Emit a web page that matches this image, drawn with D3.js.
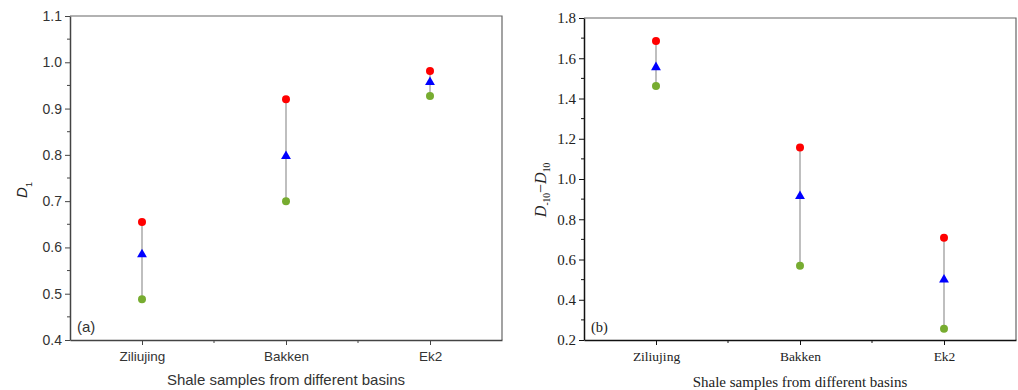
<!DOCTYPE html>
<html>
<head>
<meta charset="utf-8">
<script src="https://cdn.jsdelivr.net/npm/d3@7"></script>
<style>
  body { margin: 0; background: #fff; }
  svg { display: block; }
</style>
</head>
<body>
<div id="chart"></div>
<script>
const width = 1018;
const height = 390;

// shared categories
const basins = ["Ziliujing", "Bakken", "Ek2"];

// panel (a): D1
const d1Max = [0.655, 0.920, 0.981];
const d1Mean = [0.585, 0.797, 0.957];
const d1Min = [0.488, 0.700, 0.927];
const d1Ticks = ["0.4", "0.5", "0.6", "0.7", "0.8", "0.9", "1.0", "1.1"];

// panel (b): D-10 - D10
const dwMax = [1.686, 1.156, 0.708];
const dwMean = [1.555, 0.915, 0.500];
const dwMin = [1.462, 0.569, 0.256];
const dwTicks = ["0.2", "0.4", "0.6", "0.8", "1.0", "1.2", "1.4", "1.6", "1.8"];

const svg = d3.select("#chart")
    .append("svg")
    .attr("width", width)
    .attr("height", height);

function drawPanel(opt) {
    const g = svg.append("g");
    const x = d3.scaleLinear().domain([0, 3]).range([opt.left, opt.right]);
    const y = d3.scaleLinear().domain(opt.yDomain).range([opt.bottom, opt.top]);
    const font = opt.font;

    // frame: top and right
    g.append("path")
        .attr("d", `M${opt.left},${opt.top}H${opt.right}V${opt.bottom}`)
        .attr("fill", "none")
        .attr("stroke", "#666")
        .attr("stroke-width", 1.2);

    // y axis
    const yTickVals = opt.yTicks.map(Number);
    const step = yTickVals[1] - yTickVals[0];
    const yMinor = yTickVals.slice(0, -1).map((v) => v + step / 2);
    const yAxis = g.append("g")
        .attr("transform", `translate(${opt.left},0)`)
        .call(d3.axisLeft(y).tickValues(yTickVals).tickFormat((d, i) => opt.yTicks[i]).tickSize(5).tickPadding(3).tickSizeOuter(0));
    yAxis.append("g").selectAll("line")
        .data(yMinor)
        .join("line")
        .attr("x1", -3).attr("x2", 0)
        .attr("y1", (d) => y(d)).attr("y2", (d) => y(d))
        .attr("stroke", opt.axisColor);

    // x axis
    const xAxis = g.append("g")
        .attr("transform", `translate(0,${opt.bottom})`)
        .call(d3.axisBottom(x).tickValues([0.5, 1.5, 2.5]).tickFormat((d, i) => basins[i]).tickSize(5).tickPadding(6).tickSizeOuter(0));
    xAxis.append("g").selectAll("line")
        .data([1, 2])
        .join("line")
        .attr("x1", (d) => x(d)).attr("x2", (d) => x(d))
        .attr("y1", 0).attr("y2", 3)
        .attr("stroke", opt.axisColor);

    [yAxis, xAxis].forEach((a) => {
        a.attr("font-family", font);
        a.select(".domain").attr("stroke", opt.axisColor).attr("stroke-width", 1.5);
        a.selectAll(".tick line").attr("stroke", opt.axisColor);
        a.selectAll("text")
            .attr("font-family", font)
            .attr("fill", opt.textColor);
    });
    yAxis.selectAll("text").attr("font-size", opt.yTickSize);
    xAxis.selectAll("text").attr("font-size", opt.xTickSize);

    // range lines
    g.append("g").selectAll("line")
        .data(basins)
        .join("line")
        .attr("x1", (d, i) => x(i + 0.5)).attr("x2", (d, i) => x(i + 0.5))
        .attr("y1", (d, i) => y(opt.max[i])).attr("y2", (d, i) => y(opt.min[i]))
        .attr("stroke", "#aaa")
        .attr("stroke-width", 1.5);

    // min points (green)
    g.append("g").selectAll("circle")
        .data(opt.min)
        .join("circle")
        .attr("cx", (d, i) => x(i + 0.5))
        .attr("cy", (d) => y(d))
        .attr("r", 4)
        .attr("fill", "#77ac30");

    // max points (red)
    g.append("g").selectAll("circle")
        .data(opt.max)
        .join("circle")
        .attr("cx", (d, i) => x(i + 0.5))
        .attr("cy", (d) => y(d))
        .attr("r", 4)
        .attr("fill", "#ff0000");

    // mean points (blue triangles)
    const tri = d3.symbol().type(d3.symbolTriangle).size(42);
    g.append("g").selectAll("path")
        .data(opt.mean)
        .join("path")
        .attr("d", tri)
        .attr("transform", (d, i) => `translate(${x(i + 0.5)},${y(d)})`)
        .attr("fill", "#0000ff");

    // panel label
    g.append("text")
        .attr("x", opt.left + 7)
        .attr("y", opt.bottom - 8)
        .attr("font-family", font)
        .attr("font-size", opt.tagSize)
        .attr("fill", opt.textColor)
        .text(opt.tag);

    // x title
    g.append("text")
        .attr("x", (opt.left + opt.right) / 2)
        .attr("y", opt.xTitleY)
        .attr("text-anchor", "middle")
        .attr("font-family", font)
        .attr("font-size", opt.titleSize)
        .attr("fill", opt.textColor)
        .text("Shale samples from different basins");

    return { g, x, y };
}

const a = drawPanel({
    left: 70, right: 502, top: 16, bottom: 340,
    yDomain: [0.4, 1.1], yTicks: d1Ticks,
    max: d1Max, mean: d1Mean, min: d1Min,
    font: "'Liberation Sans', Arial, sans-serif",
    yTickSize: 14, xTickSize: 13.5, tagSize: 15, titleSize: 15,
    axisColor: "#444", textColor: "#333",
    tag: "(a)", xTitleY: 385
});

const b = drawPanel({
    left: 584, right: 1016, top: 18, bottom: 340,
    yDomain: [0.2, 1.8], yTicks: dwTicks,
    max: dwMax, mean: dwMean, min: dwMin,
    font: "'Liberation Serif', 'Times New Roman', serif",
    yTickSize: 15, xTickSize: 13.5, tagSize: 14.5, titleSize: 15,
    axisColor: "#111", textColor: "#222",
    tag: "(b)", xTitleY: 387
});

// y titles
svg.append("text")
    .attr("transform", "translate(27,190) rotate(-90)")
    .attr("text-anchor", "middle")
    .attr("font-family", "'Liberation Sans', Arial, sans-serif")
    .attr("font-size", 15)
    .attr("fill", "#222")
    .call((t) => {
        t.append("tspan").attr("font-style", "italic").text("D");
        t.append("tspan").attr("font-size", 9).attr("dy", 5).text("1");
    });

svg.append("text")
    .attr("transform", "translate(546,190) rotate(-90)")
    .attr("text-anchor", "middle")
    .attr("font-family", "'Liberation Serif', 'Times New Roman', serif")
    .attr("font-size", 16)
    .attr("fill", "#222")
    .call((t) => {
        t.append("tspan").attr("font-style", "italic").text("D");
        t.append("tspan").attr("font-size", 9.5).attr("dy", 4).text("-10");
        t.append("tspan").attr("dy", -4).text("\u2212");
        t.append("tspan").attr("font-style", "italic").text("D");
        t.append("tspan").attr("font-size", 9.5).attr("dy", 4).text("10");
    });
</script>
</body>
</html>
